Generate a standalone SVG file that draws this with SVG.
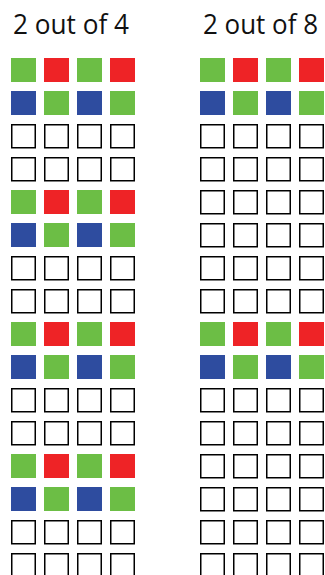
<svg xmlns="http://www.w3.org/2000/svg" xmlns:xlink="http://www.w3.org/1999/xlink" width="325" height="575" viewBox="0 0 325 575">
<style>
.t{font-family:"Open Sans","DejaVu Sans",sans-serif;font-size:27px;fill:#111}
.g{fill:#6CBE45}
.r{fill:#EE2326}
.b{fill:#2E4C9F}
.e{fill:#fff;stroke:#000;stroke-width:1.5}
</style>
<defs>
<g id="rowA"><rect class="g" x="0" y="0" width="25" height="24"/><rect class="r" x="33" y="0" width="25" height="24"/><rect class="g" x="66" y="0" width="25" height="24"/><rect class="r" x="99" y="0" width="25" height="24"/></g>
<g id="rowB"><rect class="b" x="0" y="0" width="25" height="24"/><rect class="g" x="33" y="0" width="25" height="24"/><rect class="b" x="66" y="0" width="25" height="24"/><rect class="g" x="99" y="0" width="25" height="24"/></g>
<g id="rowE"><rect class="e" x="0.75" y="0.75" width="23.5" height="23"/><rect class="e" x="33.75" y="0.75" width="23.5" height="23"/><rect class="e" x="66.75" y="0.75" width="23.5" height="23"/><rect class="e" x="99.75" y="0.75" width="23.5" height="23"/></g>
</defs>
<rect width="325" height="575" fill="#fff"/>
<g id="left">
<text class="t" x="13" y="34" textLength="116" lengthAdjust="spacingAndGlyphs">2 out of 4</text>
<g transform="translate(11,0)">
<use xlink:href="#rowA" y="58"/><use xlink:href="#rowB" y="91"/><use xlink:href="#rowE" y="124"/><use xlink:href="#rowE" y="157"/>
<use xlink:href="#rowA" y="190"/><use xlink:href="#rowB" y="223"/><use xlink:href="#rowE" y="256"/><use xlink:href="#rowE" y="289"/>
<use xlink:href="#rowA" y="322"/><use xlink:href="#rowB" y="355"/><use xlink:href="#rowE" y="388"/><use xlink:href="#rowE" y="421"/>
<use xlink:href="#rowA" y="454"/><use xlink:href="#rowB" y="487"/><use xlink:href="#rowE" y="520"/><use xlink:href="#rowE" y="553"/>
</g>
</g>
<g id="right">
<text class="t" x="203" y="34" textLength="115" lengthAdjust="spacingAndGlyphs">2 out of 8</text>
<g transform="translate(200,0)">
<use xlink:href="#rowA" y="58"/><use xlink:href="#rowB" y="91"/><use xlink:href="#rowE" y="124"/><use xlink:href="#rowE" y="157"/>
<use xlink:href="#rowE" y="190"/><use xlink:href="#rowE" y="223"/><use xlink:href="#rowE" y="256"/><use xlink:href="#rowE" y="289"/>
<use xlink:href="#rowA" y="322"/><use xlink:href="#rowB" y="355"/><use xlink:href="#rowE" y="388"/><use xlink:href="#rowE" y="421"/>
<use xlink:href="#rowE" y="454"/><use xlink:href="#rowE" y="487"/><use xlink:href="#rowE" y="520"/><use xlink:href="#rowE" y="553"/>
</g>
</g>
</svg>
